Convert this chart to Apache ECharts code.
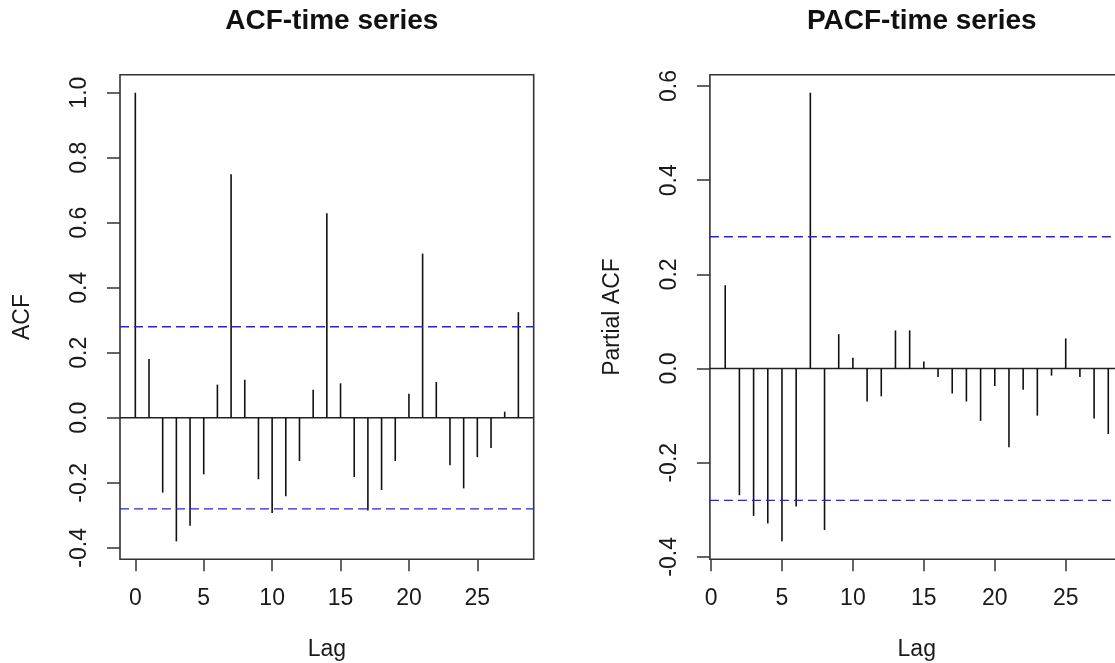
<!DOCTYPE html>
<html>
<head>
<meta charset="utf-8">
<title>ACF / PACF</title>
<script src="https://cdn.jsdelivr.net/npm/echarts@6/dist/echarts.min.js"></script>
<style>
  html, body { margin: 0; padding: 0; background: #ffffff; }
  #chart { width: 1115px; height: 663px; }
</style>
</head>
<body>
<div id="chart"></div>
<script>
// Sample autocorrelations of the series, lags 0..28
const acfLags = [0, 1, 2, 3, 4, 5, 6, 7, 8, 9, 10, 11, 12, 13, 14, 15, 16, 17, 18, 19, 20, 21, 22, 23, 24, 25, 26, 27, 28];
const acfValues = [1.000, 0.181, -0.230, -0.380, -0.332, -0.174, 0.102, 0.749, 0.117, -0.189, -0.293, -0.241, -0.133, 0.086, 0.629, 0.106, -0.182, -0.285, -0.222, -0.133, 0.074, 0.505, 0.110, -0.146, -0.217, -0.121, -0.093, 0.019, 0.325];

// Partial autocorrelations, lags 1..28
const pacfLags = [1, 2, 3, 4, 5, 6, 7, 8, 9, 10, 11, 12, 13, 14, 15, 16, 17, 18, 19, 20, 21, 22, 23, 24, 25, 26, 27, 28];
const pacfValues = [0.177, -0.269, -0.313, -0.329, -0.367, -0.293, 0.586, -0.343, 0.073, 0.023, -0.070, -0.059, 0.081, 0.081, 0.015, -0.018, -0.053, -0.070, -0.111, -0.037, -0.167, -0.045, -0.100, -0.015, 0.064, -0.018, -0.106, -0.139];

// 95% white-noise band (1.96 / sqrt(n), n = 49)
const confLimit = 0.28;

// Axis tick positions
const lagTicks = [0, 5, 10, 15, 20, 25];
const acfTicks = [-0.4, -0.2, 0.0, 0.2, 0.4, 0.6, 0.8, 1.0];
const pacfTicks = [-0.4, -0.2, 0.0, 0.2, 0.4, 0.6];

const FONT = 'Liberation Sans, Arial, Helvetica, sans-serif';
const INK = '#1a1a1a';

// Base-graphics style limits: data range padded by 4% on each side
function padRange(lo, hi) {
  const d = (hi - lo) * 0.04;
  return [lo - d, hi + d];
}
const acfX = padRange(Math.min(...acfLags), Math.max(...acfLags));
const pacfX = padRange(Math.min(...pacfLags), Math.max(...pacfLags));
const acfY = padRange(Math.min(-confLimit, ...acfValues), Math.max(confLimit, ...acfValues));
const pacfY = padRange(Math.min(-confLimit, ...pacfValues), Math.max(confLimit, ...pacfValues));

const fmt1 = v => (Math.abs(v) < 1e-9 ? 0 : v).toFixed(1);

function xAxisFor(gridIndex, range) {
  return {
    type: 'value', gridIndex, min: range[0], max: range[1], position: 'bottom',
    name: 'Lag', nameLocation: 'middle', nameGap: 79,
    nameTextStyle: { fontFamily: FONT, fontSize: 23, color: INK, lineHeight: 23 },
    axisLine: { show: false, onZero: false },
    splitLine: { show: false },
    axisTick: { show: true, customValues: lagTicks, length: 12, lineStyle: { color: '#333', width: 1.5 } },
    axisLabel: { show: true, customValues: lagTicks, margin: 28, fontFamily: FONT, fontSize: 23, lineHeight: 23, color: INK,
      formatter: v => String(Math.round(v)) }
  };
}

function yAxisFor(gridIndex, range, ticks, title) {
  return {
    type: 'value', gridIndex, min: range[0], max: range[1], position: 'left',
    name: title, nameLocation: 'middle', nameGap: 86, nameRotate: 90,
    nameTextStyle: { fontFamily: FONT, fontSize: 23, color: INK, lineHeight: 23 },
    axisLine: { show: false, onZero: false },
    splitLine: { show: false },
    axisTick: { show: true, customValues: ticks, length: 13, lineStyle: { color: '#333', width: 1.5 } },
    axisLabel: { show: true, customValues: ticks, rotate: 90, margin: 29, fontFamily: FONT, fontSize: 23, lineHeight: 23, color: INK,
      formatter: fmt1 }
  };
}

// Vertical stems from zero to each coefficient
function stemSeries(axisIndex, lags, values) {
  return {
    type: 'custom', xAxisIndex: axisIndex, yAxisIndex: axisIndex,
    encode: { x: 0, y: 1 },
    data: lags.map((l, i) => [l, values[i]]),
    renderItem: (params, api) => {
      const a = api.coord([api.value(0), 0]);
      const b = api.coord([api.value(0), api.value(1)]);
      return { type: 'line', shape: { x1: a[0], y1: a[1], x2: b[0], y2: b[1] },
               style: { stroke: '#111', lineWidth: 1.6 } };
    },
    z: 3
  };
}

function hLine(axisIndex, xr, y, color, dashed) {
  return {
    type: 'line', xAxisIndex: axisIndex, yAxisIndex: axisIndex,
    data: [[xr[0], y], [xr[1], y]],
    showSymbol: false, symbol: 'none', silent: true,
    lineStyle: { color, width: dashed ? 1.4 : 1.6, type: dashed ? [9, 5] : 'solid' },
    z: dashed ? 4 : 2
  };
}

// The right-hand panel runs past the canvas edge, so keep ECharts from squeezing it
const grids = [
  { left: 120, top: 74.7, width: 413.7, height: 484.6 },
  { left: 709.9, top: 74.7, width: 413.7, height: 484.6 }
].map(g => Object.assign(g, {
  show: true, borderColor: '#333', borderWidth: 1.6, backgroundColor: 'transparent',
  containLabel: false, outerBoundsMode: 'none'
}));

const option = {
  animation: false,
  backgroundColor: '#ffffff',
  title: [
    { text: 'ACF-time series', left: 326.8, top: 2, textAlign: 'center',
      textStyle: { fontFamily: FONT, fontSize: 28, fontWeight: 'bold', color: '#111' } },
    { text: 'PACF-time series', left: 916.8, top: 2, textAlign: 'center',
      textStyle: { fontFamily: FONT, fontSize: 28, fontWeight: 'bold', color: '#111' } }
  ],
  grid: grids,
  xAxis: [xAxisFor(0, acfX), xAxisFor(1, pacfX)],
  yAxis: [yAxisFor(0, acfY, acfTicks, 'ACF'), yAxisFor(1, pacfY, pacfTicks, 'Partial ACF')],
  series: [
    hLine(0, acfX, 0, '#222', false),
    hLine(0, acfX, confLimit, '#2020ff', true),
    hLine(0, acfX, -confLimit, '#2020ff', true),
    stemSeries(0, acfLags, acfValues),
    hLine(1, pacfX, 0, '#222', false),
    hLine(1, pacfX, confLimit, '#2020ff', true),
    hLine(1, pacfX, -confLimit, '#2020ff', true),
    stemSeries(1, pacfLags, pacfValues)
  ]
};

const chart = echarts.init(document.getElementById('chart'), null, { renderer: 'canvas' });
chart.setOption(option);
</script>
</body>
</html>
